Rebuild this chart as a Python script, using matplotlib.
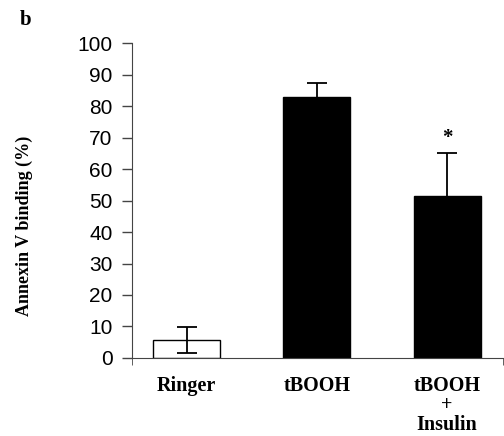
import matplotlib
matplotlib.use("Agg")
import matplotlib.pyplot as plt
import numpy as np

# values
groups = ["Ringer", "tBOOH", "tBOOH\n+\nInsulin"]
binding = [5.7, 83.0, 51.5]
sd = [4.0, 4.5, 13.5]
bar_colors = ["white", "black", "black"]
yticks = [0, 10, 20, 30, 40, 50, 60, 70, 80, 90, 100]

fig = plt.figure(figsize=(5.04, 4.36), dpi=100)
ax = fig.add_axes([0.262, 0.179, 0.736, 0.722])

x = np.arange(len(groups))
ax.bar(x, binding, width=0.515, color=bar_colors, edgecolor="black", linewidth=1.0, zorder=2)
ax.errorbar(x, binding, yerr=sd, fmt="none", ecolor="black", elinewidth=1.3,
            capsize=7, capthick=1.3, zorder=3)

# significance mark over the insulin bar
ax.text(x[2], binding[2] + sd[2] + 5, "*", ha="center", va="center",
        fontsize=15, fontweight="bold", family="Liberation Serif")

ax.set_xlim(-0.42, 2.43)
ax.set_ylim(0, 100)
ax.set_yticks(yticks)
ax.set_yticklabels([str(t) for t in yticks], family="Liberation Sans", fontsize=15)
ax.tick_params(axis="y", direction="out", length=7, width=1.0, pad=7, color="#444444")

ax.set_xticks(x)
ax.set_xticklabels(groups, family="Liberation Serif", fontweight="bold",
                   fontsize=14.5, linespacing=0.95, va="top")
ax.tick_params(axis="x", length=0, pad=13)
ax.set_xticks([-0.42, 2.43], minor=True)
ax.tick_params(axis="x", which="minor", direction="out", length=5, color="#444444")

for side in ["top", "right"]:
    ax.spines[side].set_visible(False)
ax.spines["left"].set_color("#444444")
ax.spines["bottom"].set_color("#444444")

ax.set_ylabel("Annexin V binding (%)", family="Liberation Serif", fontweight="bold",
              fontsize=13)
ax.yaxis.set_label_coords(-0.267, 0.42)

fig.text(0.05, 0.955, "b", family="Liberation Serif", fontweight="bold", fontsize=15,
         va="center", ha="center")

fig.savefig("out.png", dpi=100)
